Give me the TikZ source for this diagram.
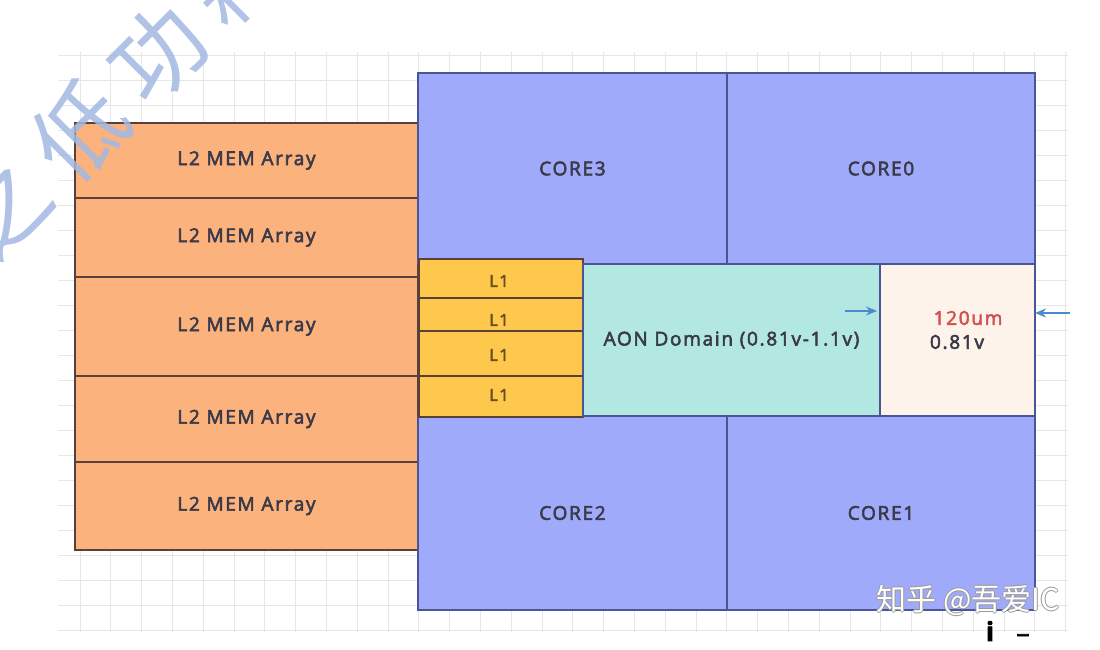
\documentclass[tikz,border=0pt]{standalone}
\usepackage{fontspec}
\setmainfont{Open Sans}[LetterSpace=9, FakeBold=3]
\newfontfamily\cjk{Noto Sans CJK SC}
\usetikzlibrary{arrows.meta}
\definecolor{memC}{HTML}{FBB27D}
\definecolor{memB}{HTML}{5A4036}
\definecolor{coreC}{HTML}{A0AAFB}
\definecolor{coreB}{HTML}{4A5595}
\definecolor{l1C}{HTML}{FDC84C}
\definecolor{aonC}{HTML}{B2E8E1}
\definecolor{creamC}{HTML}{FDF3EA}
\definecolor{txtC}{HTML}{3A3A48}
\definecolor{l1T}{HTML}{6A5020}
\definecolor{redT}{HTML}{D2504E}
\definecolor{arrC}{HTML}{4A8BCF}
\definecolor{gridC}{HTML}{E6E6E6}
\definecolor{wmC}{HTML}{A3B8E2}
\definecolor{wmG}{HTML}{9A9A9A}
\tikzset{
  blk/.style={draw, line width=1.3pt, inner sep=0pt, outer sep=0pt, anchor=center,
    font=\fontsize{19}{22}\selectfont, text=txtC},
  mem/.style={blk, fill=memC, draw=memB},
  core/.style={blk, fill=coreC, draw=coreB},
  lone/.style={blk, fill=l1C, draw=memB},
  aon/.style={blk, fill=aonC, draw=coreB},
  cream/.style={blk, fill=creamC, draw=coreB},
  lbl/.style={inner sep=0pt, font=\fontsize{19}{22}\selectfont, text=txtC},
  lonelbl/.style={inner sep=0pt, font=\fontsize{16.5}{20}\selectfont, text=l1T},
  arr/.style={draw=arrC, line width=2.4pt, -{Stealth[length=11pt,width=9pt]}},
  wm/.style={inner sep=0pt, text=wmC, opacity=0.85, rotate=45, font=\cjk\fontsize{92}{92}\selectfont},
  zh/.style={inner sep=0pt, font=\cjk\fontsize{30}{30}\selectfont}
}
\begin{document}
\begin{tikzpicture}[x=1pt,y=-1pt]
\useasboundingbox (0,0) rectangle (1100,650);
\fill[white] (0,0) rectangle (1100,650);
% background grid
\foreach \gx in {80,110.8,...,1070} \draw[gridC, line width=0.8pt] (\gx,52) -- (\gx,632);
\foreach \gy in {55,80,...,632} \draw[gridC, line width=0.8pt] (58,\gy) -- (1068,\gy);
% L2 memory arrays
\node[mem, minimum width=343pt, minimum height=75pt] (m1) at (246.5,160.5) {L2 MEM Array};
\node[mem, minimum width=343pt, minimum height=79pt] (m2) at (246.5,237.5) {L2 MEM Array};
\node[mem, minimum width=343pt, minimum height=99pt] (m3) at (246.5,326.5) {L2 MEM Array};
\node[mem, minimum width=343pt, minimum height=86pt] (m4) at (246.5,419) {L2 MEM Array};
\node[mem, minimum width=343pt, minimum height=88pt] (m5) at (246.5,506) {L2 MEM Array};
% cores
\node[core, minimum width=309pt, minimum height=191pt] (c3) at (572.5,168.5) {CORE3};
\node[core, minimum width=308pt, minimum height=191pt] (c0) at (881,168.5) {CORE0};
\node[core, minimum width=309pt, minimum height=194pt] (c2) at (572.5,513) {CORE2};
\node[core, minimum width=308pt, minimum height=194pt] (c1) at (881,513) {CORE1};
% L1 stack
\node[lone, minimum width=164pt, minimum height=39pt] (l1a) at (501,278.5) {};
\node[lone, minimum width=164pt, minimum height=33pt] (l1b) at (501,314.5) {};
\node[lone, minimum width=164pt, minimum height=45pt] (l1c) at (501,353.5) {};
\node[lone, minimum width=164pt, minimum height=41pt] (l1d) at (501,396.5) {};
\node[lonelbl] (t1a) at (499,281) {L1};
\node[lonelbl] (t1b) at (499,320) {L1};
\node[lonelbl] (t1c) at (499,355) {L1};
\node[lonelbl] (t1d) at (499,395) {L1};
% AON domain and 120um region
\node[aon, minimum width=297pt, minimum height=152pt] (aon) at (731.5,340) {AON Domain (0.81v-1.1v)};
\node[cream, minimum width=155pt, minimum height=152pt] (cr) at (957.5,340) {};
\node[lbl, text=redT] (um) at (968,318) {120um};
\node[lbl] (v81) at (957,342) {0.81v};
% arrows
\coordinate (pa) at (845,311);
\coordinate (pb) at (1070,313);
\draw[arr, shorten >=3pt] (pa) -- (pa -| cr.west);
\draw[arr] (pb) -- (pb -| cr.east);
% watermark top-left
\begin{scope}
\clip (0,0) rectangle (1100,650);
\node[wm] (wmark) at (118,92) {之\hspace{18pt}低\hspace{18pt}功\hspace{18pt}耗};
\end{scope}
% watermark bottom-right
\foreach \dx/\dy in {-1/0,1/0,0/-1,0/1}
  \node[zh, text=wmG] at (968+\dx,600+\dy) {知乎 @吾爱IC};
\node[zh, text=white] (zhihu) at (968,600) {知乎 @吾爱IC};
\node[inner sep=0pt, font=\bfseries\fontsize{26}{26}\selectfont] (ii) at (990,631) {i};
\node[inner sep=0pt, font=\bfseries\fontsize{26}{26}\selectfont] (us) at (1023,634) {\_};
\end{tikzpicture}
\end{document}
